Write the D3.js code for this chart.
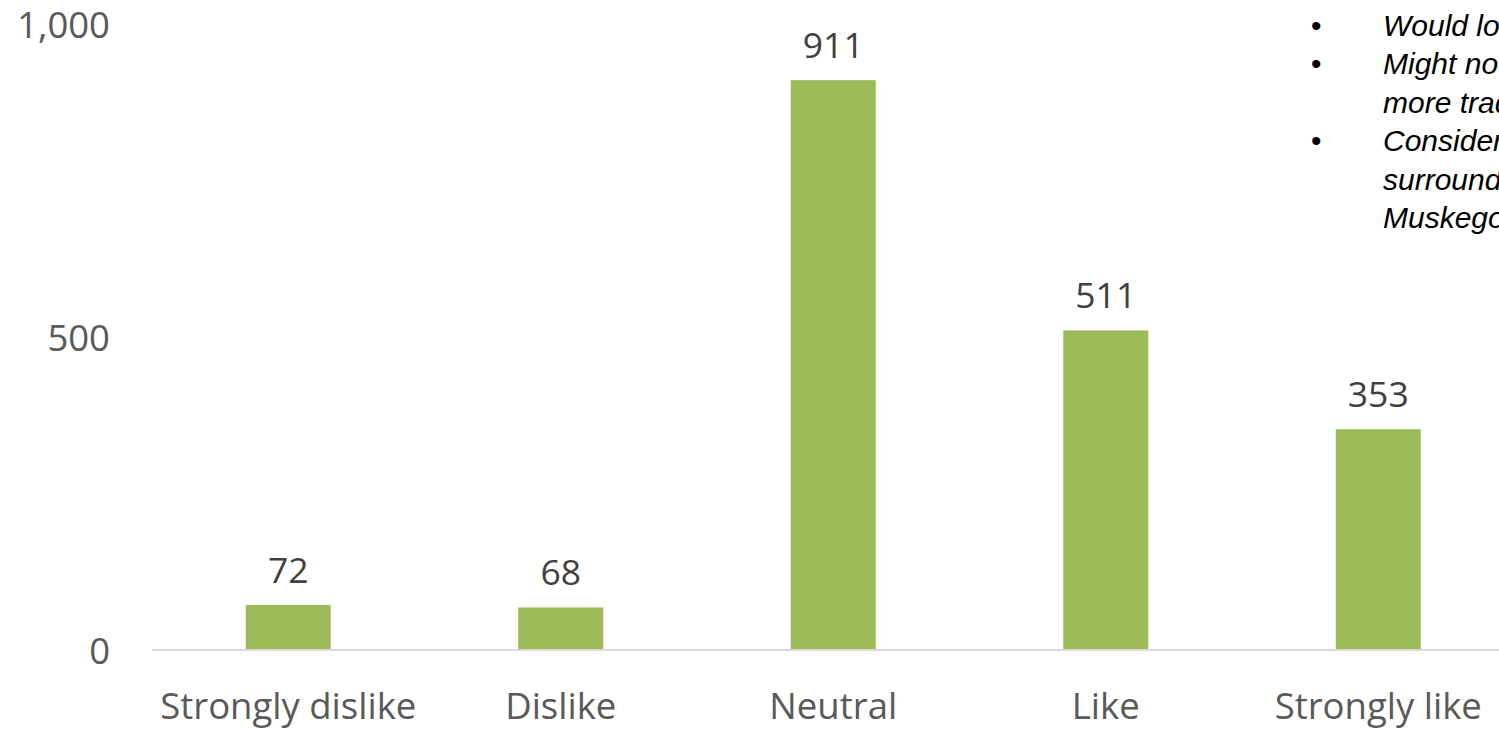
<!DOCTYPE html>
<html>
<head>
<meta charset="utf-8">
<script src="https://cdn.jsdelivr.net/npm/d3@7"></script>
<style>
  html, body { margin: 0; padding: 0; background: #fff; overflow: hidden; }
  svg { display: block; }
</style>
</head>
<body>
<svg id="chart" width="1499" height="730"></svg>
<script>
// Survey responses by rating
const categories = ["Strongly dislike", "Dislike", "Neutral", "Like", "Strongly like"];
const responses = [72, 68, 911, 511, 353];
const yTicks = [0, 500, 1000];

// Notes listed beside the chart (one array per bullet, one entry per line)
const notes = [
  ["Would love to see more trails"],
  ["Might not use it; would prefer", "more traditional park space"],
  ["Consider the effect on the", "surrounding neighbourhood of", "Muskego"]
];

const svg = d3.select("#chart");
const font = "'Open Sans', sans-serif";

const x = d3.scaleBand()
  .domain(categories)
  .range([152, 1514.5])
  .paddingInner(0.688)
  .paddingOuter(0.344);

const y = d3.scaleLinear()
  .domain([0, 1000])
  .range([650, 24.5]);

// Value axis labels (no line)
const yAxis = d3.axisLeft(y)
  .tickValues(yTicks)
  .tickFormat(d3.format(","))
  .tickSize(0)
  .tickPadding(0);

const gy = svg.append("g")
  .attr("transform", "translate(110,0)")
  .call(yAxis);
gy.select(".domain").remove();
gy.selectAll("text")
  .attr("font-family", font)
  .attr("font-size", 36.5)
  .attr("fill", "#595959")
  .attr("dy", "0.36em");

// Bars
svg.append("g").selectAll("rect")
  .data(responses)
  .join("rect")
  .attr("x", (d, i) => x(categories[i]))
  .attr("y", d => y(d))
  .attr("width", x.bandwidth())
  .attr("height", d => y(0) - y(d))
  .attr("fill", "#9bbb59");

// Category axis
const xAxis = d3.axisBottom(x).tickSize(0).tickPadding(0);
const gx = svg.append("g")
  .attr("transform", `translate(0,${y(0)})`)
  .call(xAxis);
gx.select(".domain")
  .attr("stroke", "#d9d9d9")
  .attr("stroke-width", 2)
  .attr("d", "M152,0H1514.5");
gx.selectAll("text")
  .attr("font-family", font)
  .attr("font-size", 36.5)
  .attr("fill", "#595959")
  .attr("dy", null)
  .attr("y", 68.5);

// Data labels
svg.append("g").selectAll("text")
  .data(responses)
  .join("text")
  .attr("x", (d, i) => x(categories[i]) + x.bandwidth() / 2)
  .attr("y", d => y(d) - 22)
  .attr("text-anchor", "middle")
  .attr("font-family", font)
  .attr("font-size", 35.5)
  .attr("fill", "#404040")
  .text(d => d);

// Bulleted notes
const noteG = svg.append("g")
  .attr("font-family", "'Liberation Sans', Arial, sans-serif")
  .attr("font-size", 30)
  .attr("font-style", "italic")
  .attr("fill", "#000");
let line = 0;
const lineH = 38.4;
const top0 = 36;
notes.forEach(item => {
  noteG.append("text")
    .attr("x", 1311)
    .attr("y", top0 + line * lineH)
    .attr("font-style", "normal")
    .text("•");
  item.forEach(t => {
    noteG.append("text")
      .attr("x", 1383)
      .attr("y", top0 + line * lineH)
      .text(t);
    line++;
  });
});
</script>
</body>
</html>
